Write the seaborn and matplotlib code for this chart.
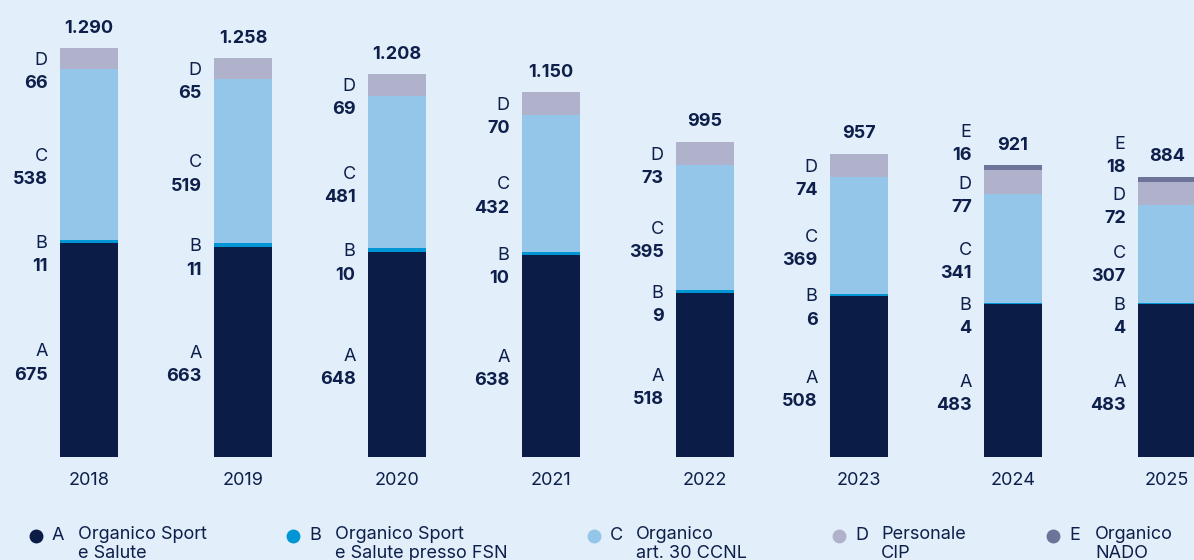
import numpy as np
import matplotlib
matplotlib.use("Agg")
import matplotlib.pyplot as plt
from matplotlib.lines import Line2D
import seaborn as sns

# Dati
years = ["2018", "2019", "2020", "2021", "2022", "2023", "2024", "2025"]
letters = ["A", "B", "C", "D", "E"]
org_sport_salute = [675, 663, 648, 638, 518, 508, 483, 483]
org_presso_fsn = [11, 11, 10, 10, 9, 6, 4, 4]
org_art30_ccnl = [538, 519, 481, 432, 395, 369, 341, 307]
personale_cip = [66, 65, 69, 70, 73, 74, 77, 72]
org_nado = [0, 0, 0, 0, 0, 0, 16, 18]
legend_labels = ["Organico Sport\ne Salute", "Organico Sport\ne Salute presso FSN",
                 "Organico\nart. 30 CCNL", "Personale\nCIP", "Organico\nNADO"]

series = [org_sport_salute, org_presso_fsn, org_art30_ccnl, personale_cip, org_nado]
colors = ["#0b1d47", "#0096d6", "#94c6ea", "#b0b2cc", "#6e7499"]
navy = "#0d1f4a"
bg = "#e2eef9"
fs = 13

sns.set_theme(style="white")
plt.rcParams['font.family'] = ['Inter', 'DejaVu Sans']

W, H = 1194, 560
fig = plt.figure(figsize=(W / 100, H / 100), dpi=100, facecolor=bg)
base_px = 457          # pixel riga base barre
ax = fig.add_axes([0, (H - base_px) / H, 1, base_px / H])
ax.set_facecolor(bg)

step_px = 154
bar_w = 58 / step_px
bottom = np.zeros(len(years))
for vals, col in zip(series, colors):
    sns.barplot(x=years, y=vals, color=col, width=bar_w, bottom=bottom.copy(),
                saturation=1, errorbar=None, linewidth=0, ax=ax)
    bottom += np.array(vals)

scale = 409 / 1290     # px per unita'
ax.set_xlim(-89 / step_px, (W - 89) / step_px)
ax.set_ylim(0, base_px / scale)
sns.despine(ax=ax, left=True, bottom=True)
ax.set_yticks([])
ax.tick_params(axis='x', length=0, pad=11, labelsize=fs, labelcolor=navy)

# Etichette dei segmenti
gap = 162
line = 73
for i in range(len(years)):
    base = 0
    prev = -np.inf
    for letter, vals in zip(letters, series):
        v = vals[i]
        if v > 0:
            y = max(base + v / 2 - 6, prev + gap)
            x = i - bar_w / 2 - 0.08
            ax.text(x, y, letter, ha='right', va='center', fontsize=fs, color=navy)
            ax.text(x, y - line, f"{v}", ha='right', va='center', fontsize=fs,
                    fontweight='bold', color=navy)
            prev = y
        base += v
    total = int(bottom[i])
    ax.annotate(f"{total:,}".replace(",", "."), (i, total), xytext=(0, 11),
                textcoords='offset points', ha='center', va='baseline',
                fontsize=fs, fontweight='bold', color=navy)

# Legenda
leg_x = [36, 293, 594, 839, 1053]
leg_y = 536
for x, letter, lab, col in zip(leg_x, letters, legend_labels, colors):
    fig.add_artist(Line2D([x / W], [1 - leg_y / H], marker='o', markersize=9,
                          color=col, linestyle='none', transform=fig.transFigure))
    fig.text((x + 16) / W, 1 - leg_y / H, letter, ha='left', va='center',
             fontsize=fs, color=navy)
    fig.text((x + 42) / W, 1 - (leg_y - 10) / H, lab, ha='left', va='top',
             fontsize=fs, color=navy, linespacing=1.12)

fig.savefig("out.png", dpi=100, facecolor=bg)
